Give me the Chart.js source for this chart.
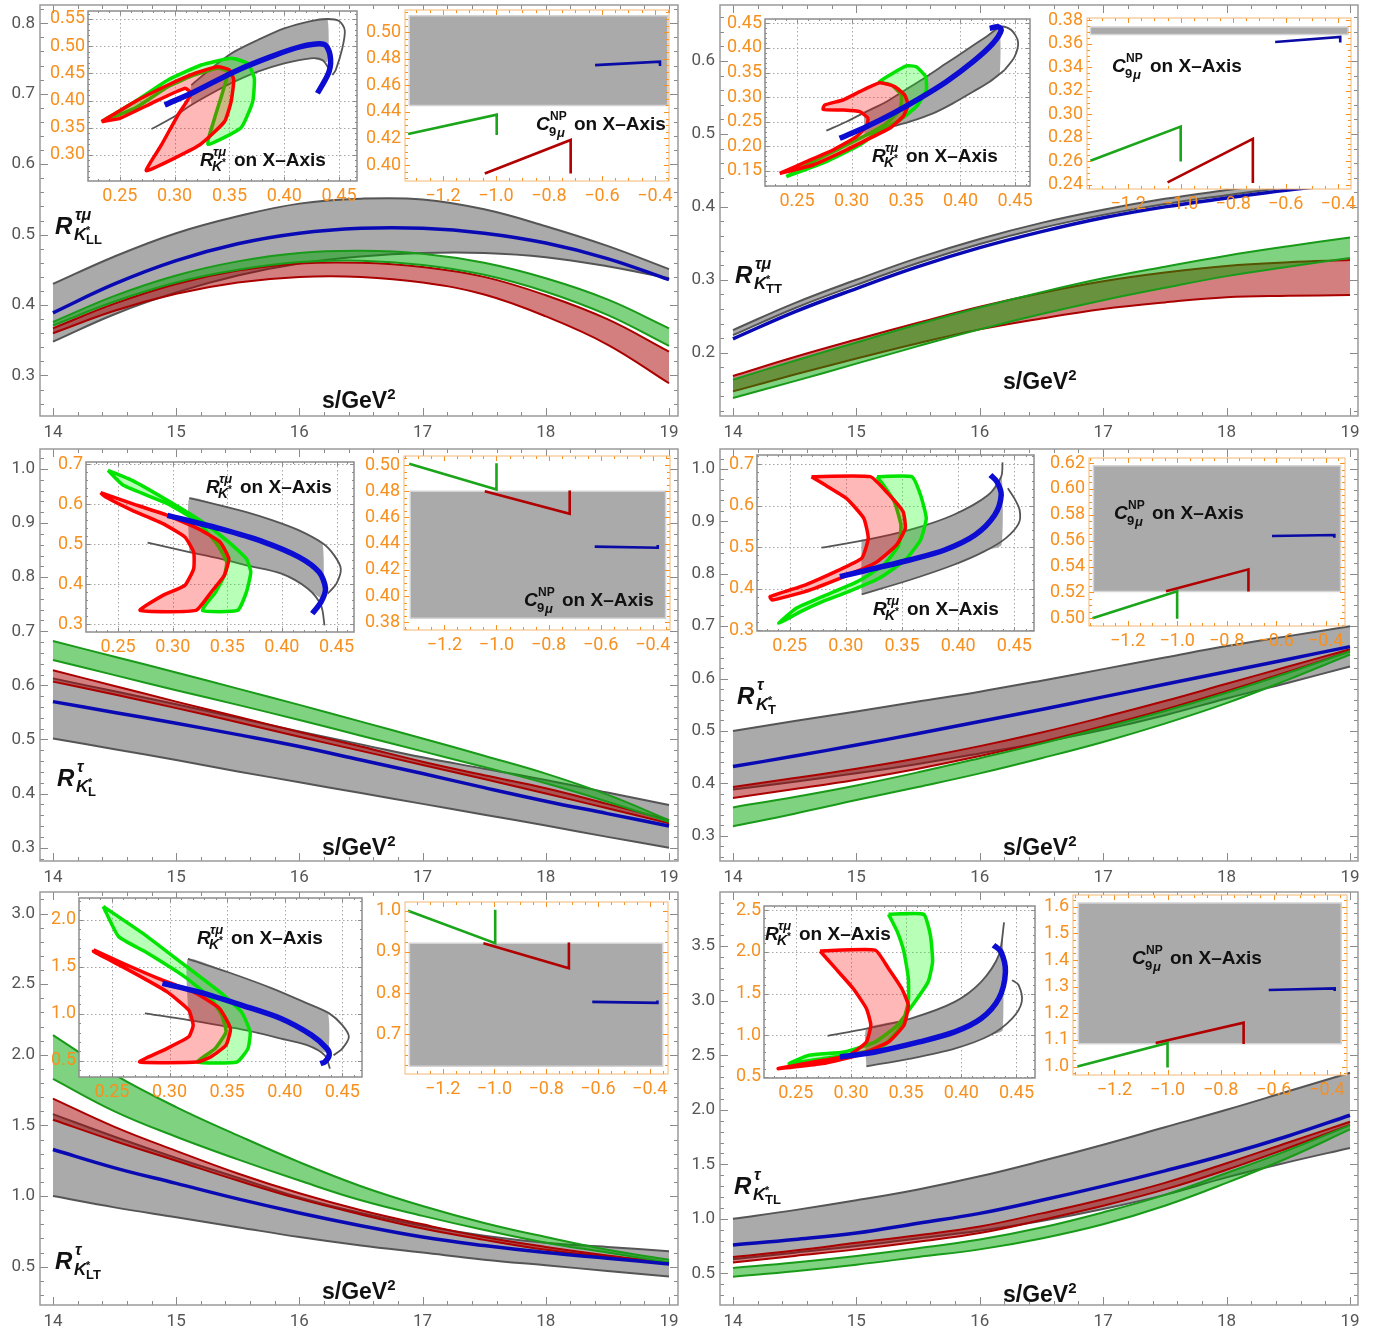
<!DOCTYPE html>
<html>
<head>
<meta charset="utf-8">
<title>R K* tau-mu ratios</title>
<script src="https://cdn.jsdelivr.net/npm/chart.js@4.4.1/dist/chart.umd.min.js"></script>
<style>
  body { margin: 0; width: 1385px; height: 1334px; position: relative; overflow: hidden; background: #fff; }
  canvas { position: absolute; }
  .lab { position: absolute; font-family: "Liberation Sans", Arial, sans-serif; font-weight: bold; color: #111; white-space: nowrap; line-height: 1; }
  .lab span { position: absolute; white-space: nowrap; }
</style>
</head>
<body>
<script>
// ===== shared axes =====
const sValues = [14, 14.5, 15, 15.5, 16, 16.5, 17, 17.5, 18, 18.5, 19];
const mainXTicks = [14, 15, 16, 17, 18, 19];
const insetAXTicks = [0.25, 0.3, 0.35, 0.4, 0.45];
const insetBXTicks = [-1.2, -1.0, -0.8, -0.6, -0.4];

// ===== panel 1 : R_{K*LL}^{tau mu} =====
const llYTicks = [0.3, 0.4, 0.5, 0.6, 0.7, 0.8];
const llGrayHi = [0.430, 0.469, 0.502, 0.526, 0.544, 0.551, 0.550, 0.536, 0.512, 0.484, 0.451];
const llGrayLo = [0.348, 0.387, 0.418, 0.442, 0.459, 0.469, 0.474, 0.474, 0.468, 0.455, 0.438];
const llBlue = [0.389, 0.430, 0.463, 0.487, 0.502, 0.509, 0.509, 0.502, 0.488, 0.466, 0.436];
const llGreenHi = [0.376, 0.413, 0.442, 0.462, 0.474, 0.477, 0.473, 0.460, 0.438, 0.408, 0.367];
const llGreenLo = [0.371, 0.405, 0.432, 0.450, 0.461, 0.463, 0.457, 0.443, 0.419, 0.386, 0.342];
const llRedHi = [0.367, 0.402, 0.430, 0.449, 0.459, 0.460, 0.454, 0.440, 0.414, 0.380, 0.334];
const llRedLo = [0.360, 0.392, 0.416, 0.432, 0.440, 0.440, 0.432, 0.415, 0.384, 0.344, 0.289];
const llInYTicks = [0.3, 0.35, 0.4, 0.45, 0.5, 0.55];
const llInGrayFill = [[0.3152,0.3919],[0.3394,0.4195],[0.3545,0.4348],[0.3758,0.4532],[0.40,0.4685],[0.4242,0.4777],[0.4394,0.4716],[0.4394,0.55],[0.4242,0.5463],[0.40,0.5328],[0.3758,0.5114],[0.3545,0.49],[0.3394,0.4685],[0.3152,0.4287]];
const llInGrayUp = [[0.3152,0.4287],[0.3394,0.4685],[0.3545,0.49],[0.3758,0.5114],[0.40,0.5328],[0.4242,0.5463],[0.4394,0.55],[0.45,0.5463],[0.4552,0.5298],[0.453,0.4961],[0.447,0.4563],[0.4439,0.4471]];
const llInGrayLo = [[0.2788,0.3478],[0.297,0.3674],[0.3152,0.3919],[0.3394,0.4195],[0.3545,0.4348],[0.3758,0.4532],[0.40,0.4685],[0.4242,0.4777],[0.4348,0.4746],[0.4424,0.4532]];
const llInBlue = [[0.2909,0.3919],[0.3182,0.4164],[0.3545,0.4532],[0.3879,0.4808],[0.4152,0.4991],[0.4364,0.5034],[0.4418,0.4838],[0.4409,0.4532],[0.4303,0.4134]];
const llInGreen = [[0.2333,0.3613],[0.2636,0.398],[0.2939,0.4379],[0.3242,0.4654],[0.3515,0.4777],[0.3667,0.4685],[0.3727,0.4409],[0.3712,0.398],[0.3606,0.3502],[0.3303,0.3196],[0.3364,0.3674],[0.3439,0.4164],[0.3485,0.4532],[0.3394,0.4593],[0.3182,0.4471],[0.2939,0.4256],[0.2636,0.3858]];
const llInRed = [[0.2333,0.3613],[0.2636,0.398],[0.2939,0.4287],[0.3182,0.4501],[0.3394,0.4624],[0.35,0.4563],[0.3539,0.4379],[0.3515,0.398],[0.3455,0.3613],[0.3227,0.3184],[0.2742,0.2712],[0.2879,0.3184],[0.303,0.3735],[0.3152,0.4134],[0.3091,0.4225],[0.2788,0.395],[0.25,0.3674]];
const llC9YTicks = [0.4, 0.42, 0.44, 0.46, 0.48, 0.5];
const llC9Gray = [[-1.327,0.4449],[-0.352,0.4449],[-0.352,0.5124],[-1.327,0.5124]];
const llC9Blue = [[-0.626,0.4752],[-0.381,0.4778],[-0.381,0.4745]];
const llC9Green = [[-1.331,0.4233],[-0.997,0.4379],[-0.997,0.4227]];
const llC9Red = [[-1.042,0.3937],[-0.718,0.4189],[-0.718,0.3937]];

// ===== panel 2 : R_{K*TT}^{tau mu} =====
const ttYTicks = [0.2, 0.3, 0.4, 0.5, 0.6];
const ttGrayHi = [0.231, 0.268, 0.300, 0.330, 0.356, 0.378, 0.396, 0.411, 0.423, 0.434, 0.442];
const ttGrayLo = [0.224, 0.261, 0.293, 0.323, 0.349, 0.371, 0.389, 0.404, 0.416, 0.427, 0.436];
const ttBlue = [0.219, 0.256, 0.288, 0.318, 0.344, 0.366, 0.385, 0.400, 0.412, 0.423, 0.432];
const ttGreenHi = [0.163, 0.189, 0.214, 0.239, 0.262, 0.283, 0.302, 0.318, 0.333, 0.346, 0.358];
const ttGreenLo = [0.138, 0.161, 0.185, 0.209, 0.232, 0.253, 0.272, 0.289, 0.305, 0.318, 0.330];
const ttRedHi = [0.168, 0.194, 0.218, 0.241, 0.263, 0.282, 0.298, 0.310, 0.319, 0.324, 0.327];
const ttRedLo = [0.147, 0.170, 0.192, 0.213, 0.232, 0.247, 0.260, 0.269, 0.276, 0.278, 0.279];
const ttInYTicks = [0.15, 0.2, 0.25, 0.3, 0.35, 0.4, 0.45];
const ttInGrayFill = [[0.3121,0.2210],[0.3320,0.2366],[0.3534,0.2501],[0.3748,0.2671],[0.3931,0.2874],[0.4115,0.3111],[0.4268,0.3314],[0.4359,0.3460],[0.4359,0.4398],[0.4237,0.4229],[0.4054,0.3958],[0.3870,0.3687],[0.3687,0.3416],[0.3503,0.3159],[0.3320,0.2908],[0.3121,0.2680]];
const ttInGrayUp = [[0.2769,0.2318],[0.2953,0.2501],[0.3136,0.2705],[0.3320,0.2908],[0.3503,0.3159],[0.3687,0.3416],[0.3870,0.3687],[0.4054,0.3958],[0.4237,0.4229],[0.4375,0.4432],[0.4466,0.4364],[0.4528,0.4127],[0.4497,0.3822],[0.4405,0.3551]];
const ttInGrayLo = [[0.4405,0.3551],[0.4268,0.3314],[0.4115,0.3111],[0.3931,0.2874],[0.3748,0.2671],[0.3534,0.2501],[0.3320,0.2366],[0.3121,0.2210]];
const ttInBlue = [[0.2891,0.2163],[0.3136,0.2400],[0.3381,0.2671],[0.3625,0.2976],[0.3870,0.3314],[0.4115,0.3721],[0.4298,0.4093],[0.4375,0.4364],[0.4344,0.4432],[0.4268,0.4398]];
const ttInGreen = [[0.2402,0.1383],[0.2769,0.1688],[0.3075,0.2027],[0.3228,0.2264],[0.3442,0.2535],[0.3595,0.2806],[0.3687,0.3145],[0.3680,0.3416],[0.3595,0.3619],[0.3503,0.3633],[0.3258,0.3314],[0.3365,0.3247],[0.3457,0.3043],[0.3442,0.2738],[0.3320,0.2467],[0.3136,0.2230],[0.2891,0.1958],[0.2616,0.1654]];
const ttInRed = [[0.2341,0.1451],[0.2647,0.1621],[0.2953,0.1925],[0.3167,0.2163],[0.3350,0.2366],[0.3472,0.2603],[0.3518,0.2840],[0.3488,0.3043],[0.3396,0.3213],[0.3258,0.3294],[0.3075,0.3111],[0.2922,0.2942],[0.2754,0.2840],[0.2739,0.2752],[0.2922,0.2738],[0.3075,0.2705],[0.3151,0.2569],[0.3136,0.2400],[0.3044,0.2196],[0.2830,0.1925],[0.2586,0.1688]];
const ttC9YTicks = [0.24, 0.26, 0.28, 0.3, 0.32, 0.34, 0.36, 0.38];
const ttC9Gray = [[-1.344,0.3679],[-0.362,0.3679],[-0.362,0.3743],[-1.344,0.3743]];
const ttC9Blue = [[-0.64,0.3616],[-0.392,0.3658],[-0.392,0.3611]];
const ttC9Green = [[-1.344,0.2604],[-1.0,0.2895],[-1.0,0.2598]];
const ttC9Red = [[-1.05,0.2420],[-0.725,0.2790],[-0.725,0.2414]];

// ===== panel 3 : R_{K*L}^{tau} =====
const lYTicks = [0.3, 0.4, 0.5, 0.6, 0.7, 0.8, 0.9, 1.0];
const lGrayHi = [0.613, 0.589, 0.565, 0.540, 0.515, 0.491, 0.467, 0.446, 0.425, 0.402, 0.379];
const lGrayLo = [0.502, 0.482, 0.462, 0.441, 0.421, 0.401, 0.381, 0.361, 0.341, 0.320, 0.300];
const lBlue = [0.570, 0.550, 0.530, 0.509, 0.487, 0.462, 0.437, 0.411, 0.386, 0.363, 0.340];
const lGreenHi = [0.682, 0.653, 0.624, 0.594, 0.564, 0.533, 0.502, 0.470, 0.437, 0.398, 0.351];
const lGreenLo = [0.647, 0.619, 0.591, 0.564, 0.536, 0.507, 0.478, 0.449, 0.419, 0.385, 0.348];
const lRedHi = [0.628, 0.599, 0.570, 0.542, 0.514, 0.487, 0.459, 0.434, 0.410, 0.381, 0.351];
const lRedLo = [0.607, 0.583, 0.558, 0.532, 0.505, 0.479, 0.453, 0.427, 0.400, 0.373, 0.345];
const lInYTicks = [0.3, 0.4, 0.5, 0.6, 0.7];
const lInGrayFill = [[0.3152,0.4808],[0.3433,0.4642],[0.3675,0.4475],[0.3996,0.4267],[0.4238,0.3892],[0.4370,0.365],[0.4370,0.502],[0.4157,0.535],[0.3916,0.56],[0.3675,0.5808],[0.3433,0.5975],[0.3152,0.6158]];
const lInGrayUp = [[0.3152,0.6158],[0.3433,0.5975],[0.3675,0.5808],[0.3916,0.56],[0.4157,0.535],[0.4379,0.5017],[0.4479,0.4725],[0.4539,0.4392],[0.4499,0.4017],[0.4419,0.3767]];
const lInGrayLo = [[0.277,0.5042],[0.3152,0.4808],[0.3433,0.4642],[0.3675,0.4475],[0.3996,0.4267],[0.4238,0.3892],[0.4358,0.3475],[0.439,0.2975]];
const lInBlue = [[0.2951,0.5725],[0.3433,0.5392],[0.3836,0.5058],[0.4157,0.4683],[0.434,0.4308],[0.4399,0.3892],[0.4358,0.3558],[0.4278,0.3267]];
const lInGreen = [[0.2407,0.685],[0.2629,0.66],[0.2951,0.61],[0.3272,0.5558],[0.3514,0.5058],[0.3675,0.4642],[0.3715,0.4308],[0.3675,0.3808],[0.3594,0.335],[0.3272,0.335],[0.3393,0.3808],[0.3473,0.4225],[0.3494,0.4558],[0.3413,0.4975],[0.3232,0.5558],[0.2951,0.6017],[0.2548,0.6475]];
const lInRed = [[0.2339,0.6292],[0.2629,0.6017],[0.2951,0.5725],[0.3232,0.5392],[0.3433,0.5058],[0.3514,0.4642],[0.3473,0.4225],[0.3353,0.3808],[0.3212,0.335],[0.2701,0.335],[0.291,0.3725],[0.3111,0.3975],[0.3192,0.4392],[0.3192,0.4808],[0.3111,0.5183],[0.291,0.5517],[0.2629,0.585],[0.2387,0.6183]];
const lC9YTicks = [0.38, 0.4, 0.42, 0.44, 0.46, 0.48, 0.5];
const lC9Gray = [[-1.331,0.3831],[-0.351,0.3831],[-0.351,0.48],[-1.331,0.48]];
const lC9Blue = [[-0.623,0.4377],[-0.381,0.4369],[-0.381,0.439]];
const lC9Green = [[-1.335,0.501],[-1.0,0.4813],[-1.0,0.5013]];
const lC9Red = [[-1.045,0.48],[-0.719,0.4628],[-0.719,0.4805]];

// ===== panel 4 : R_{K*T}^{tau} =====
const tYTicks = [0.3, 0.4, 0.5, 0.6, 0.7, 0.8, 0.9, 1.0];
const tGrayHi = [0.500, 0.519, 0.537, 0.556, 0.575, 0.596, 0.618, 0.640, 0.662, 0.681, 0.700];
const tGrayLo = [0.388, 0.403, 0.419, 0.437, 0.457, 0.478, 0.502, 0.530, 0.562, 0.592, 0.623];
const tBlue = [0.432, 0.452, 0.473, 0.495, 0.518, 0.541, 0.565, 0.589, 0.613, 0.637, 0.661];
const tGreenHi = [0.354, 0.374, 0.396, 0.421, 0.448, 0.476, 0.506, 0.538, 0.573, 0.611, 0.652];
const tGreenLo = [0.318, 0.342, 0.368, 0.393, 0.419, 0.448, 0.479, 0.514, 0.553, 0.598, 0.646];
const tRedHi = [0.393, 0.410, 0.428, 0.448, 0.471, 0.497, 0.526, 0.557, 0.590, 0.623, 0.656];
const tRedLo = [0.372, 0.389, 0.407, 0.428, 0.452, 0.479, 0.509, 0.541, 0.576, 0.613, 0.652];
const tInYTicks = [0.3, 0.4, 0.5, 0.6, 0.7];
const tInGrayFill = [[0.3141,0.386],[0.3568,0.4205],[0.3956,0.4566],[0.4231,0.4904],[0.4386,0.5048],[0.4386,0.6695],[0.4267,0.6253],[0.3956,0.5771],[0.3568,0.541],[0.318,0.5169],[0.3141,0.5185]];
const tInGrayUp = [[0.2783,0.4984],[0.318,0.5169],[0.3568,0.541],[0.3956,0.5771],[0.4267,0.6253],[0.4383,0.6695],[0.4395,0.704]];
const tInGrayLo = [[0.3141,0.386],[0.3568,0.4205],[0.3956,0.4566],[0.4228,0.4888],[0.4422,0.5209],[0.4539,0.557],[0.4547,0.5892],[0.45,0.6173],[0.4442,0.6414]];
const tInBlue = [[0.2947,0.4285],[0.3257,0.4486],[0.3568,0.4687],[0.3879,0.4928],[0.4150,0.5289],[0.4325,0.5771],[0.4383,0.6253],[0.4345,0.6574],[0.4287,0.6735]];
const tInGreen = [[0.3277,0.6695],[0.3587,0.6695],[0.3665,0.6253],[0.3716,0.5691],[0.3665,0.5169],[0.3529,0.4687],[0.3296,0.4245],[0.3024,0.3924],[0.2791,0.3683],[0.2597,0.3442],[0.2403,0.3161],[0.2558,0.3522],[0.2791,0.3803],[0.3102,0.4165],[0.3335,0.4566],[0.3471,0.5048],[0.3490,0.553],[0.3432,0.6092],[0.3335,0.6494]];
const tInRed = [[0.2694,0.6695],[0.3218,0.6695],[0.3374,0.6293],[0.351,0.5851],[0.3529,0.545],[0.3451,0.5048],[0.3257,0.4606],[0.2947,0.4245],[0.2636,0.3924],[0.2345,0.3723],[0.2325,0.3803],[0.2636,0.4084],[0.2908,0.4406],[0.3141,0.4727],[0.3199,0.5209],[0.316,0.5691],[0.3005,0.6173],[0.2791,0.6534]];
const tC9YTicks = [0.5, 0.52, 0.54, 0.56, 0.58, 0.6, 0.62];
const tC9Gray = [[-1.338,0.5206],[-0.340,0.5206],[-0.340,0.6179],[-1.338,0.6179]];
const tC9Blue = [[-0.617,0.5636],[-0.365,0.5644],[-0.365,0.5623]];
const tC9Green = [[-1.342,0.50],[-1.0,0.5209],[-1.0,0.4997]];
const tC9Red = [[-1.045,0.5209],[-0.712,0.5378],[-0.712,0.5206]];

// ===== panel 5 : R_{K*LT}^{tau} =====
const ltYTicks = [0.5, 1.0, 1.5, 2.0, 2.5, 3.0];
const ltGrayHi = [1.58, 1.42, 1.27, 1.13, 0.99, 0.88, 0.79, 0.72, 0.67, 0.64, 0.61];
const ltGrayLo = [1.00, 0.92, 0.85, 0.78, 0.71, 0.65, 0.60, 0.55, 0.51, 0.47, 0.43];
const ltBlue = [1.33, 1.20, 1.09, 0.98, 0.88, 0.79, 0.71, 0.65, 0.60, 0.56, 0.52];
const ltGreenHi = [2.14, 1.86, 1.63, 1.43, 1.24, 1.07, 0.93, 0.81, 0.71, 0.62, 0.55];
const ltGreenLo = [1.83, 1.60, 1.42, 1.26, 1.11, 0.97, 0.86, 0.76, 0.67, 0.60, 0.53];
const ltRedHi = [1.69, 1.49, 1.32, 1.16, 1.02, 0.90, 0.80, 0.71, 0.64, 0.58, 0.53];
const ltRedLo = [1.54, 1.39, 1.25, 1.11, 0.98, 0.87, 0.77, 0.69, 0.62, 0.57, 0.52];
const ltInYTicks = [0.5, 1.0, 1.5, 2.0];
const ltInGrayFill = [[0.3167,0.934],[0.3586,0.8447],[0.3967,0.738],[0.4195,0.667],[0.4375,0.59],[0.4375,1.005],[0.4195,1.111],[0.389,1.271],[0.351,1.442],[0.3159,1.584]];
const ltInGrayUp = [[0.3159,1.584],[0.351,1.442],[0.389,1.271],[0.4195,1.111],[0.4386,1.005],[0.45,0.88],[0.4557,0.756],[0.45,0.631],[0.4424,0.56]];
const ltInGrayLo = [[0.2786,1.005],[0.3167,0.934],[0.3586,0.8447],[0.3967,0.738],[0.4195,0.667],[0.4348,0.56],[0.4393,0.418]];
const ltInBlue = [[0.2938,1.325],[0.3243,1.236],[0.3624,1.093],[0.3967,0.951],[0.4233,0.774],[0.4367,0.631],[0.4386,0.56],[0.4348,0.489],[0.431,0.471]];
const ltInGreen = [[0.2424,2.142],[0.2786,1.84],[0.3129,1.52],[0.3433,1.236],[0.3624,1.022],[0.37,0.809],[0.3681,0.631],[0.3586,0.489],[0.3243,0.489],[0.3395,0.631],[0.349,0.809],[0.3452,0.987],[0.3357,1.165],[0.3129,1.396],[0.2786,1.662],[0.2557,1.822]];
const ltInRed = [[0.234,1.68],[0.2595,1.538],[0.29,1.378],[0.3205,1.236],[0.3433,1.058],[0.3529,0.845],[0.349,0.667],[0.3357,0.542],[0.3243,0.489],[0.2740,0.489],[0.2976,0.631],[0.3167,0.756],[0.3205,0.88],[0.3167,1.04],[0.2976,1.236],[0.2671,1.449],[0.234,1.662]];
const ltC9YTicks = [0.7, 0.8, 0.9, 1.0];
const ltC9Gray = [[-1.3285,0.6228],[-0.350,0.6228],[-0.350,0.9211],[-1.3285,0.9211]];
const ltC9Blue = [[-0.6221,0.7789],[-0.3702,0.7764],[-0.3702,0.7821]];
const ltC9Green = [[-1.334,1.0],[-0.997,0.9211],[-0.997,1.0024]];
const ltC9Red = [[-1.0426,0.9211],[-0.7123,0.8602],[-0.7123,0.9228]];

// ===== panel 6 : R_{K*TL}^{tau} =====
const tlYTicks = [0.5, 1.0, 1.5, 2.0, 2.5, 3.0, 3.5];
const tlGrayHi = [1.00, 1.08, 1.17, 1.27, 1.39, 1.53, 1.68, 1.84, 2.00, 2.17, 2.34];
const tlGrayLo = [0.63, 0.69, 0.75, 0.82, 0.89, 0.98, 1.09, 1.22, 1.38, 1.52, 1.65];
const tlBlue = [0.76, 0.81, 0.87, 0.96, 1.05, 1.17, 1.30, 1.44, 1.59, 1.76, 1.95];
const tlGreenHi = [0.55, 0.60, 0.66, 0.73, 0.81, 0.92, 1.06, 1.22, 1.42, 1.63, 1.86];
const tlGreenLo = [0.47, 0.52, 0.58, 0.65, 0.72, 0.82, 0.95, 1.12, 1.33, 1.56, 1.82];
const tlRedHi = [0.65, 0.71, 0.78, 0.85, 0.93, 1.05, 1.18, 1.33, 1.51, 1.70, 1.89];
const tlRedLo = [0.60, 0.66, 0.72, 0.79, 0.87, 0.99, 1.12, 1.27, 1.45, 1.65, 1.86];
const tlInYTicks = [0.5, 1.0, 1.5, 2.0, 2.5];
const tlInGrayFill = [[0.314,0.628],[0.354,0.72],[0.394,0.84],[0.426,1.0],[0.4376,1.06],[0.4376,2.2],[0.434,1.96],[0.418,1.64],[0.394,1.40],[0.354,1.20],[0.314,1.08]];
const tlInGrayUp = [[0.2788,0.992],[0.314,1.08],[0.354,1.20],[0.394,1.40],[0.418,1.64],[0.434,1.96],[0.4388,2.352]];
const tlInGrayLo = [[0.314,0.628],[0.354,0.72],[0.394,0.84],[0.426,1.0],[0.446,1.20],[0.4548,1.40],[0.452,1.60],[0.446,1.66]];
const tlInBlue = [[0.29,0.74],[0.322,0.80],[0.362,0.92],[0.394,1.04],[0.418,1.20],[0.434,1.44],[0.44,1.76],[0.436,2.0],[0.4292,2.08]];
const tlInGreen = [[0.334,2.448],[0.366,2.448],[0.372,2.2],[0.374,1.88],[0.37,1.64],[0.358,1.40],[0.342,1.12],[0.322,0.92],[0.294,0.80],[0.262,0.76],[0.244,0.66],[0.274,0.72],[0.306,0.78],[0.33,0.88],[0.346,1.12],[0.352,1.40],[0.352,1.68],[0.348,2.0],[0.342,2.24],[0.336,2.40]];
const tlInRed = [[0.272,2.008],[0.322,2.02],[0.334,1.80],[0.346,1.56],[0.352,1.36],[0.348,1.12],[0.334,0.92],[0.306,0.76],[0.274,0.66],[0.234,0.60],[0.266,0.68],[0.298,0.76],[0.314,0.92],[0.318,1.12],[0.314,1.32],[0.302,1.56],[0.286,1.80]];
const tlC9YTicks = [1.0, 1.1, 1.2, 1.3, 1.4, 1.5, 1.6];
const tlC9Gray = [[-1.336,1.086],[-0.346,1.086],[-0.346,1.614],[-1.336,1.614]];
const tlC9Blue = [[-0.619,1.2873],[-0.3706,1.2937],[-0.3706,1.2835]];
const tlC9Green = [[-1.3395,1.0],[-1.0,1.0886],[-1.0,0.9962]];
const tlC9Red = [[-1.0447,1.0886],[-0.7135,1.1646],[-0.7135,1.0848]];

// ===== styles =====
const GRAY_FILL = "#aaaaaa";
const GRAY_LINE = "#555555";
const BLUE = "#0a0ab4";
const GREEN_LINE = "#199a19";
const GREEN_FILL = "rgba(0, 165, 0, 0.5)";
const RED_LINE = "#aa0000";
const RED_FILL = "rgba(170, 0, 0, 0.5)";
const ORANGE = "#f7901e";
const TICK_GRAY = "#555555";

function fmt(v, dec) {
  return v.toFixed(dec).replace("-", "\u2212");
}

// frame, inner ticks, dotted grid and white plot background
const framePlugin = {
  id: "frame",
  beforeDraw(chart, args, o) {
    if (!o.bg) return;
    const a = chart.chartArea;
    const ctx = chart.ctx;
    ctx.save();
    ctx.fillStyle = o.bg;
    ctx.fillRect(a.left, a.top, a.right - a.left, a.bottom - a.top);
    ctx.restore();
  },
  beforeDatasetsDraw(chart, args, o) {
    if (!o.grid) return;
    const { ctx, chartArea: a, scales } = chart;
    ctx.save();
    ctx.strokeStyle = o.grid;
    ctx.lineWidth = 1;
    ctx.setLineDash([1.5, 2.5]);
    ctx.beginPath();
    scales.x.ticks.forEach((t) => {
      const px = Math.round(scales.x.getPixelForValue(t.value)) + 0.5;
      ctx.moveTo(px, a.top);
      ctx.lineTo(px, a.bottom);
    });
    scales.y.ticks.forEach((t) => {
      const py = Math.round(scales.y.getPixelForValue(t.value)) + 0.5;
      ctx.moveTo(a.left, py);
      ctx.lineTo(a.right, py);
    });
    ctx.stroke();
    ctx.restore();
  },
  afterDraw(chart, args, o) {
    if (!o.color) return;
    const { ctx, chartArea: a, scales } = chart;
    const { x, y } = scales;
    ctx.save();
    ctx.strokeStyle = o.tickColor || o.color;
    ctx.lineWidth = 1;
    ctx.beginPath();
    const minor = (scale, step) => {
      const out = [];
      if (!step) return out;
      for (let v = Math.ceil(scale.min / step - 1e-6) * step; v <= scale.max + 1e-9; v += step) out.push(v);
      return out;
    };
    const xTick = (v, len) => {
      const px = Math.round(x.getPixelForValue(v)) + 0.5;
      ctx.moveTo(px, a.bottom);
      ctx.lineTo(px, a.bottom - len);
      ctx.moveTo(px, a.top);
      ctx.lineTo(px, a.top + len);
    };
    const yTick = (v, len) => {
      const py = Math.round(y.getPixelForValue(v)) + 0.5;
      ctx.moveTo(a.left, py);
      ctx.lineTo(a.left + len, py);
      ctx.moveTo(a.right, py);
      ctx.lineTo(a.right - len, py);
    };
    minor(x, o.minorX).forEach((v) => xTick(v, o.minorLen));
    minor(y, o.minorY).forEach((v) => yTick(v, o.minorLen));
    x.ticks.forEach((t) => xTick(t.value, o.majorLen));
    y.ticks.forEach((t) => yTick(t.value, o.majorLen));
    ctx.stroke();
    ctx.strokeStyle = o.color;
    ctx.lineWidth = o.width || 1;
    ctx.strokeRect(a.left, a.top, a.right - a.left, a.bottom - a.top);
    ctx.restore();
  },
};
Chart.register(framePlugin);

function makeCanvas(frame, pad) {
  const [l, t, r, b] = frame;
  const w = r - l + pad.l + pad.r;
  const h = b - t + pad.t + pad.b;
  const c = document.createElement("canvas");
  c.width = w;
  c.height = h;
  c.style.left = l - pad.l + "px";
  c.style.top = t - pad.t + "px";
  c.style.width = w + "px";
  c.style.height = h + "px";
  document.body.appendChild(c);
  return c;
}

function makeAxis(range, tickVals, dec, font, color, padding, fit) {
  return {
    type: "linear",
    min: range[0],
    max: range[1],
    afterBuildTicks: (s) => {
      s.ticks = tickVals.map((v) => ({ value: v }));
    },
    afterFit: (s) => {
      fit(s);
      s.paddingTop = 0;
      s.paddingBottom = 0;
      s.paddingLeft = 0;
      s.paddingRight = 0;
    },
    grid: { display: false, drawTicks: false },
    border: { display: false },
    ticks: { color, font, padding, autoSkip: false, maxRotation: 0, callback: (v) => fmt(v, dec) },
  };
}

function baseOptions(pad, xAxis, yAxis, frameOpts) {
  return {
    responsive: false,
    animation: false,
    events: [],
    layout: { padding: { top: pad.t, right: pad.r, left: 0, bottom: 0 } },
    plugins: { legend: { display: false }, tooltip: { enabled: false }, frame: frameOpts },
    scales: { x: xAxis, y: yAxis },
  };
}

const toPts = (arr) => arr.map(([x, y]) => ({ x, y }));
const closed = (arr) => toPts(arr.concat([arr[0]]));

// ===== main panel =====
function mainPanel(frame, xRange, yRange, yTicks, yDec, curves) {
  const pad = { l: 40, t: 5, r: 14, b: 30 };
  const canvas = makeCanvas(frame, pad);
  const font = { family: "Roboto", size: 17 };
  const curve = (vals, color, width, fill, bg, order) => ({
    data: sValues.map((s, i) => ({ x: s, y: vals[i] })),
    borderColor: color,
    borderWidth: width,
    backgroundColor: bg || "rgba(0,0,0,0)",
    fill: fill || false,
    order,
    pointRadius: 0,
    tension: 0.4,
  });
  const step = yTicks[1] - yTicks[0];
  new Chart(canvas, {
    type: "line",
    data: {
      datasets: [
        curve(curves.grayHi, GRAY_LINE, 2, "+1", GRAY_FILL, 10),
        curve(curves.grayLo, GRAY_LINE, 2, false, null, 9),
        curve(curves.redHi, RED_LINE, 2, "+1", RED_FILL, 8),
        curve(curves.redLo, RED_LINE, 2, false, null, 7),
        curve(curves.greenHi, GREEN_LINE, 2, "+1", GREEN_FILL, 6),
        curve(curves.greenLo, GREEN_LINE, 2, false, null, 5),
        curve(curves.blue, BLUE, 3.5, false, null, 1),
      ],
    },
    options: baseOptions(
      pad,
      makeAxis(xRange, mainXTicks, 0, font, TICK_GRAY, 7, (s) => { s.height = pad.b; }),
      makeAxis(yRange, yTicks, yDec, font, TICK_GRAY, 5, (s) => { s.width = pad.l; }),
      { color: "#9a9a9a", tickColor: "#8a8a8a", width: 1.5, majorLen: 8, minorLen: 4, minorX: 0.2, minorY: step / 5 }
    ),
  });
}

// ===== inset: R^{tau mu}_{K*} on x axis =====
function insetR(frame, xRange, yRange, yTicks, yDec, shapes) {
  const pad = { l: 48, t: 10, r: 14, b: 28 };
  const canvas = makeCanvas(frame, pad);
  const font = { family: "Roboto", size: 18 };
  const poly = (arr, color, width, bg, order) => ({
    data: closed(arr), borderColor: color, borderWidth: width, backgroundColor: bg,
    fill: "shape", order, pointRadius: 0, tension: 0.15, borderJoinStyle: "round",
  });
  const path = (arr, color, width, order) => ({
    data: toPts(arr), borderColor: color, borderWidth: width, fill: false,
    order, pointRadius: 0, tension: 0.3, borderCapStyle: "butt",
  });
  const step = yTicks[1] - yTicks[0];
  new Chart(canvas, {
    type: "line",
    data: {
      datasets: [
        poly(shapes.grayFill, "rgba(0,0,0,0)", 0, GRAY_FILL, 10),
        path(shapes.grayUp, GRAY_LINE, 1.8, 9),
        path(shapes.grayLo, GRAY_LINE, 1.8, 8),
        poly(shapes.green, "#00e400", 3.5, "rgba(0, 255, 0, 0.28)", 7),
        poly(shapes.red, "#ff0000", 3.5, "rgba(255, 0, 0, 0.28)", 6),
        path(shapes.blue, "#0c0cd2", 5.5, 1),
      ],
    },
    options: baseOptions(
      pad,
      makeAxis(xRange, insetAXTicks, 2, font, ORANGE, 5, (s) => { s.height = pad.b; }),
      makeAxis(yRange, yTicks, yDec, font, ORANGE, 3, (s) => { s.width = pad.l; }),
      { bg: "#ffffff", grid: "#a8a8a8", color: "#8c8c8c", tickColor: "#8c8c8c", width: 1.5, majorLen: 4, minorLen: 2, minorX: 0.01, minorY: step / 5 }
    ),
  });
}

// ===== inset: C9 on x axis =====
function insetC9(frame, xRange, yRange, yTicks, yDec, lines) {
  const pad = { l: 48, t: 10, r: 14, b: 28 };
  const canvas = makeCanvas(frame, pad);
  const font = { family: "Roboto", size: 18 };
  const path = (arr, color, order) => ({
    data: toPts(arr), borderColor: color, borderWidth: 2.6, fill: false,
    order, pointRadius: 0, tension: 0, borderJoinStyle: "miter",
  });
  const step = yTicks[1] - yTicks[0];
  new Chart(canvas, {
    type: "line",
    data: {
      datasets: [
        { data: closed(lines.gray), borderColor: "#d4d4d4", borderWidth: 1.5, backgroundColor: GRAY_FILL,
          fill: "shape", order: 10, pointRadius: 0, tension: 0 },
        path(lines.green, "#1aa51a", 3),
        path(lines.red, "#b00000", 2),
        path(lines.blue, "#0a0aa5", 1),
      ],
    },
    options: baseOptions(
      pad,
      makeAxis(xRange, insetBXTicks, 1, font, ORANGE, 5, (s) => { s.height = pad.b; }),
      makeAxis(yRange, yTicks, yDec, font, ORANGE, 4, (s) => { s.width = pad.l; }),
      { bg: "#ffffff", color: "#f3b877", tickColor: ORANGE, width: 1, majorLen: 5, minorLen: 3, minorX: 0.05, minorY: step / 4 }
    ),
  });
}

// ===== text labels =====
function addLabel(html, left, top) {
  const d = document.createElement("div");
  d.className = "lab";
  d.style.left = left + "px";
  d.style.top = top + "px";
  d.innerHTML = html;
  document.body.appendChild(d);
}
function piece(txt, x, y, size, italic) {
  return `<span style="left:${x}px;top:${y}px;font-size:${size}px;font-style:${italic ? "italic" : "normal"}">${txt}</span>`;
}
function mainLabel(x, capTop, sup, sub) {
  addLabel(
    piece("R", 0, -4, 24, true) + piece(sup, 20, -11, 16, true) + piece("K", 19, 8, 17, true) +
      piece("*", 31, 7, 11, false) + piece(sub, 31, 15, 13, false),
    x, capTop
  );
}
function rLabel(x, capTop) {
  addLabel(
    piece("R", 0, -3, 19, true) + piece("τμ", 13, -8, 13, true) + piece("K", 12, 6, 14, true) +
      piece("*", 22, 5, 10, false) + piece("on X\u2013Axis", 34, -3, 19, false),
    x, capTop
  );
}
function c9Label(x, capTop) {
  addLabel(
    piece("C", 0, -3, 19, true) + piece("NP", 14, -7, 12, false) + piece("9", 13, 8, 13, false) +
      piece("μ", 21, 9, 13, true) + piece("on X\u2013Axis", 38, -3, 19, false),
    x, capTop
  );
}
function sLabel(x, top) {
  addLabel(`<span style="left:0;top:0;font-size:23px">s/GeV<sup style="font-size:15px;vertical-align:9px">2</sup></span>`, x, top);
}

// ===== build =====
mainPanel([40, 5, 678, 416], [13.895, 19.073], [0.2425, 0.826], llYTicks, 1,
  { grayHi: llGrayHi, grayLo: llGrayLo, blue: llBlue, greenHi: llGreenHi, greenLo: llGreenLo, redHi: llRedHi, redLo: llRedLo });
mainPanel([720, 5, 1358, 416], [13.895, 19.065], [0.1132, 0.6768], ttYTicks, 1,
  { grayHi: ttGrayHi, grayLo: ttGrayLo, blue: ttBlue, greenHi: ttGreenHi, greenLo: ttGreenLo, redHi: ttRedHi, redLo: ttRedLo });
mainPanel([40, 449, 678, 861], [13.895, 19.073], [0.2754, 1.037], lYTicks, 1,
  { grayHi: lGrayHi, grayLo: lGrayLo, blue: lBlue, greenHi: lGreenHi, greenLo: lGreenLo, redHi: lRedHi, redLo: lRedLo });
mainPanel([720, 449, 1358, 861], [13.895, 19.065], [0.2517, 1.0382], tYTicks, 1,
  { grayHi: tGrayHi, grayLo: tGrayLo, blue: tBlue, greenHi: tGreenHi, greenLo: tGreenLo, redHi: tRedHi, redLo: tRedLo });
mainPanel([40, 892, 678, 1305], [13.895, 19.073], [0.229, 3.1525], ltYTicks, 1,
  { grayHi: ltGrayHi, grayLo: ltGrayLo, blue: ltBlue, greenHi: ltGreenHi, greenLo: ltGreenLo, redHi: ltRedHi, redLo: ltRedLo });
mainPanel([720, 892, 1358, 1305], [13.895, 19.065], [0.21, 3.997], tlYTicks, 1,
  { grayHi: tlGrayHi, grayLo: tlGrayLo, blue: tlBlue, greenHi: tlGreenHi, greenLo: tlGreenLo, redHi: tlRedHi, redLo: tlRedLo });

insetR([88, 11, 357, 181], [0.2209, 0.4664], [0.2522, 0.5647], llInYTicks, 2,
  { grayFill: llInGrayFill, grayUp: llInGrayUp, grayLo: llInGrayLo, blue: llInBlue, green: llInGreen, red: llInRed });
insetC9([405, 10, 669, 181], [-1.343, -0.347], [0.388, 0.5167], llC9YTicks, 2,
  { gray: llC9Gray, blue: llC9Blue, green: llC9Green, red: llC9Red });
insetR([765, 19, 1030, 186], [0.2206, 0.4638], [0.1194, 0.4588], ttInYTicks, 2,
  { grayFill: ttInGrayFill, grayUp: ttInGrayUp, grayLo: ttInGrayLo, blue: ttInBlue, green: ttInGreen, red: ttInRed });
insetC9([1087, 18, 1351, 189], [-1.357, -0.351], [0.2363, 0.382], ttC9YTicks, 2,
  { gray: ttC9Gray, blue: ttC9Blue, green: ttC9Green, red: ttC9Red });
insetR([86, 462, 354, 632], [0.2206, 0.466], [0.281, 0.7058], lInYTicks, 1,
  { grayFill: lInGrayFill, grayUp: lInGrayUp, grayLo: lInGrayLo, blue: lInBlue, green: lInGreen, red: lInRed });
insetC9([404, 456, 670, 630], [-1.355, -0.334], [0.3741, 0.5069], lC9YTicks, 2,
  { gray: lC9Gray, blue: lC9Blue, green: lC9Green, red: lC9Red });
insetR([757, 455, 1034, 631], [0.2209, 0.4675], [0.2976, 0.7217], tInYTicks, 1,
  { grayFill: tInGrayFill, grayUp: tInGrayUp, grayLo: tInGrayLo, blue: tInBlue, green: tInGreen, red: tInRed });
insetC9([1089, 458, 1345, 626], [-1.356, -0.322], [0.494, 0.6239], tC9YTicks, 2,
  { gray: tC9Gray, blue: tC9Blue, green: tC9Green, red: tC9Red });
insetR([79, 898, 362, 1077], [0.2214, 0.4671], [0.329, 2.231], ltInYTicks, 1,
  { grayFill: ltInGrayFill, grayUp: ltInGrayUp, grayLo: ltInGrayLo, blue: ltInBlue, green: ltInGreen, red: ltInRed });
insetC9([405, 902, 668, 1074], [-1.3455, -0.3294], [0.604, 1.0211], ltC9YTicks, 1,
  { gray: ltC9Gray, blue: ltC9Blue, green: ltC9Green, red: ltC9Red });
insetR([764, 906, 1035, 1078], [0.2212, 0.4668], [0.488, 2.548], tlInYTicks, 1,
  { grayFill: tlInGrayFill, grayUp: tlInGrayUp, grayLo: tlInGrayLo, blue: tlInBlue, green: tlInGreen, red: tlInRed });
insetC9([1073, 895, 1347, 1075], [-1.356, -0.3242], [0.9684, 1.6443], tlC9YTicks, 1,
  { gray: tlC9Gray, blue: tlC9Blue, green: tlC9Green, red: tlC9Red });

mainLabel(55, 218, "τμ", "LL");
mainLabel(735, 267, "τμ", "TT");
mainLabel(57, 770, "τ", "L");
mainLabel(737, 688, "τ", "T");
mainLabel(55, 1253, "τ", "LT");
mainLabel(734, 1178, "τ", "TL");

rLabel(200, 153);
rLabel(872, 149);
rLabel(206, 480);
rLabel(873, 602);
rLabel(197, 931);
rLabel(765, 927);
c9Label(536, 117);
c9Label(1112, 59);
c9Label(524, 593);
c9Label(1114, 506);
c9Label(1132, 951);

sLabel(322, 386);
sLabel(1003, 367);
sLabel(322, 833);
sLabel(1003, 833);
sLabel(322, 1277);
sLabel(1003, 1280);
</script>
</body>
</html>
